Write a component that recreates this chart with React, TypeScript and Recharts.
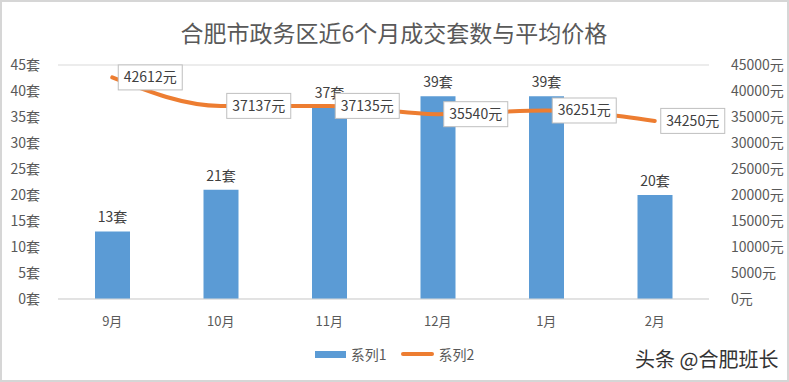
import React from 'react';
import {
  ComposedChart,
  Bar,
  Line,
  XAxis,
  YAxis,
  CartesianGrid,
  Legend,
  LabelList,
} from 'recharts';

const months = ['9月', '10月', '11月', '12月', '1月', '2月'];
const deals = [13, 21, 37, 39, 39, 20];
const avgPrice = [42612, 37137, 37135, 35540, 36251, 34250];
const leftTicks = [0, 5, 10, 15, 20, 25, 30, 35, 40, 45];
const rightTicks = [0, 5000, 10000, 15000, 20000, 25000, 30000, 35000, 40000, 45000];

const data = months.map((m, i) => ({ month: m, deals: deals[i], price: avgPrice[i] }));

const FONT = '"Noto Sans CJK SC", "Noto Sans", sans-serif';

const PriceLabel = (props: any) => {
  const { x, y, value } = props;
  const text = `${value}元`;
  const w = 64;
  const h = 25;
  return (
    <g>
      <rect x={x + 6} y={y - h / 2} width={w} height={h} fill="#fff" stroke="#bfbfbf" strokeWidth={1} />
      <text x={x + 6 + w / 2} y={y + 5} textAnchor="middle" fontSize={14} fill="#404040" fontFamily={FONT}>
        {text}
      </text>
    </g>
  );
};

const RightTick = (props: any) => {
  const { x, y, payload } = props;
  return (
    <text x={x + 14} y={y + 5} textAnchor="start" fontSize={14} fill="#595959" fontFamily={FONT}>
      {`${payload.value}元`}
    </text>
  );
};

const LegendContent = () => (
  <div style={{ display: 'flex', justifyContent: 'center', alignItems: 'center', fontFamily: FONT, fontSize: 14, color: '#595959' }}>
    <span style={{ display: 'inline-block', width: 31, height: 7, background: '#5B9BD5', marginRight: 5 }} />
    <span style={{ marginRight: 14 }}>系列1</span>
    <span style={{ display: 'inline-block', width: 33, height: 4, background: '#ED7D31', borderRadius: 2, marginRight: 5 }} />
    <span>系列2</span>
  </div>
);

const App: React.FC = () => {
  return (
    <div
      style={{
        position: 'absolute',
        left: 0,
        top: 0,
        width: 789,
        height: 382,
        boxSizing: 'border-box',
        border: '2px solid #d6d6d6',
        background: '#fff',
        overflow: 'hidden',
      }}
    >
      <ComposedChart
        width={785}
        height={378}
        data={data}
        margin={{ top: 63, right: 0, bottom: 51, left: 0 }}
      >
        <text x={392} y={40} textAnchor="middle" fontSize={23} fill="#595959" fontFamily={FONT}>
          合肥市政务区近6个月成交套数与平均价格
        </text>
        <CartesianGrid vertical={false} stroke="#d9d9d9" />
        <XAxis
          dataKey="month"
          axisLine={{ stroke: '#d9d9d9' }}
          tickLine={false}
          tick={{ fontSize: 13, fill: '#595959', fontFamily: FONT }}
          tickMargin={12}
          height={30}
        />
        <YAxis
          yAxisId="left"
          domain={[0, 45]}
          ticks={leftTicks}
          width={56}
          axisLine={false}
          tickLine={false}
          tick={{ fontSize: 14, fill: '#595959', fontFamily: FONT }}
          tickFormatter={(v: number) => `${v}套`}
          tickMargin={12}
        />
        <YAxis
          yAxisId="right"
          orientation="right"
          domain={[0, 45000]}
          ticks={rightTicks}
          width={78}
          axisLine={false}
          tickLine={false}
          tick={<RightTick />}
        />
        <Bar yAxisId="left" dataKey="deals" fill="#5B9BD5" barSize={35} isAnimationActive={false} name="系列1">
          <LabelList
            dataKey="deals"
            position="top"
            offset={9}
            formatter={(v: any) => `${v}套`}
            style={{ fontSize: 14, fill: '#404040', fontFamily: FONT }}
          />
        </Bar>
        <Line
          yAxisId="right"
          dataKey="price"
          type="monotone"
          stroke="#ED7D31"
          strokeWidth={4}
          strokeLinecap="round"
          dot={false}
          isAnimationActive={false}
          name="系列2"
        >
          <LabelList dataKey="price" content={<PriceLabel />} />
        </Line>
        <Legend
          verticalAlign="middle"
          content={<LegendContent />}
          wrapperStyle={{ top: 342, left: 0, width: 785 }}
        />
      </ComposedChart>
      <div
        style={{
          position: 'absolute',
          left: 633,
          top: 342,
          fontFamily: FONT,
          fontSize: 20,
          color: '#333',
          whiteSpace: 'nowrap',
        }}
      >
        头条 @合肥班长
      </div>
    </div>
  );
};

export default App;
